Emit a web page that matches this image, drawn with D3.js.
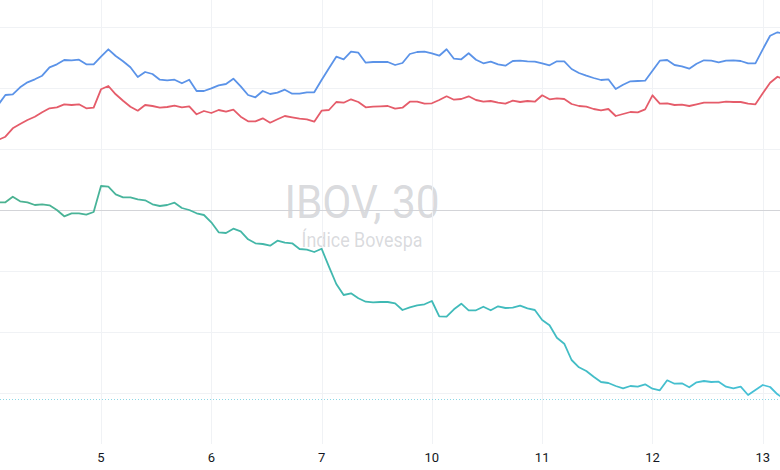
<!DOCTYPE html>
<html>
<head>
<meta charset="utf-8">
<script src="https://cdn.jsdelivr.net/npm/d3@7"></script>
<style>
  html, body { margin: 0; padding: 0; background: #ffffff; }
  svg { display: block; }
</style>
</head>
<body>
<svg id="chart" width="780" height="470"></svg>
<script>
// ---- data (percent change, 30-minute bars) ----
const dayLabels = ["5", "6", "7", "10", "11", "12", "13"];
const dayStartIndex = [14, 29, 44, 59, 74, 89, 104];
const gridValues = [1.83, 1.22, 0.61, -0.61, -1.22, -1.83];
const baselineValue = 0;

const seriesBlue = [1.05,1.15,1.157,1.227,1.277,1.307,1.343,1.427,1.457,1.50,1.497,1.503,1.457,1.457,
  1.533,1.607,1.54,1.487,1.427,1.33,1.38,1.36,1.303,1.297,1.303,1.267,1.303,1.19,1.19,
  1.217,1.247,1.26,1.313,1.237,1.15,1.127,1.19,1.16,1.173,1.203,1.163,1.163,1.177,1.177,
  1.30,1.417,1.533,1.507,1.583,1.573,1.473,1.48,1.48,1.48,1.45,1.47,1.56,1.58,1.583,
  1.567,1.543,1.607,1.513,1.507,1.567,1.503,1.467,1.483,1.457,1.443,1.49,1.493,1.487,1.483,
  1.467,1.447,1.487,1.487,1.41,1.37,1.343,1.32,1.30,1.307,1.21,1.253,1.287,1.29,1.293,
  1.393,1.493,1.50,1.45,1.437,1.413,1.463,1.497,1.493,1.477,1.493,1.497,1.49,1.467,1.467,
  1.607,1.743,1.777,1.76];

const seriesRed = [0.70,0.733,0.817,0.86,0.90,0.933,0.977,1.017,1.027,1.057,1.05,1.057,1.017,1.023,
  1.207,1.24,1.157,1.093,1.033,0.993,1.05,1.04,1.023,1.03,1.043,1.027,1.037,0.957,0.99,
  0.97,1.00,0.983,1.003,0.933,0.887,0.887,0.917,0.873,0.907,0.94,0.927,0.913,0.907,0.883,
  0.993,1.00,1.08,1.073,1.107,1.08,1.027,1.033,1.037,1.04,1.013,1.023,1.083,1.083,1.063,
  1.067,1.10,1.137,1.103,1.11,1.137,1.10,1.083,1.09,1.073,1.063,1.093,1.08,1.09,1.083,
  1.147,1.107,1.117,1.11,1.06,1.04,1.033,1.01,0.997,1.01,0.94,0.96,0.98,0.977,1.007,
  1.147,1.063,1.067,1.05,1.053,1.04,1.057,1.073,1.073,1.073,1.083,1.08,1.08,1.063,1.057,
  1.167,1.273,1.333,1.30];

const seriesTeal = [0.077,0.077,0.133,0.087,0.077,0.05,0.057,0.047,0.00,-0.063,-0.033,-0.033,-0.047,-0.02,
  0.24,0.233,0.157,0.127,0.127,0.107,0.097,0.057,0.04,0.05,0.073,0.02,0.00,-0.033,-0.05,
  -0.123,-0.223,-0.23,-0.187,-0.213,-0.293,-0.333,-0.34,-0.357,-0.307,-0.327,-0.333,-0.39,-0.397,-0.42,
  -0.387,-0.567,-0.74,-0.85,-0.833,-0.883,-0.917,-0.923,-0.92,-0.92,-0.933,-1.00,-0.973,-0.953,-0.943,
  -0.91,-1.063,-1.067,-0.993,-0.937,-1.003,-1.003,-0.967,-1.003,-0.963,-0.98,-0.977,-0.957,-0.983,-1.00,
  -1.10,-1.153,-1.277,-1.337,-1.50,-1.573,-1.61,-1.667,-1.72,-1.73,-1.76,-1.783,-1.76,-1.767,-1.743,
  -1.787,-1.803,-1.703,-1.737,-1.733,-1.773,-1.723,-1.71,-1.72,-1.717,-1.767,-1.783,-1.767,-1.85,-1.80,
  -1.75,-1.77,-1.843,-1.893];

const watermarkTitle = "IBOV, 30";
const watermarkSubtitle = "Índice Bovespa";

// ---- layout ----
const W = 780, H = 470;
const plotBottom = 444;
const svg = d3.select("#chart");

const x = d3.scaleLinear().domain([0, seriesBlue.length - 1]).range([-1.94, -1.94 + 7.353 * (seriesBlue.length - 1)]);
const y = d3.scaleLinear().domain([-2.34, 2.10]).range([plotBottom, 0]);

const defs = svg.append("defs");
const grad = defs.append("linearGradient")
  .attr("id", "tealGrad").attr("gradientUnits", "userSpaceOnUse")
  .attr("x1", 0).attr("x2", W).attr("y1", 0).attr("y2", 0);
grad.append("stop").attr("offset", "0%").attr("stop-color", "#4cb290");
grad.append("stop").attr("offset", "50%").attr("stop-color", "#3fb9b4");
grad.append("stop").attr("offset", "100%").attr("stop-color", "#47c1d8");
defs.append("clipPath").attr("id", "plotClip")
  .append("rect").attr("x", 0).attr("y", 0).attr("width", W).attr("height", plotBottom);

// watermark
const wm = svg.append("g").attr("font-family", "Roboto, sans-serif").attr("fill", "rgba(149,152,161,0.36)");
wm.append("text")
  .attr("transform", "translate(362,218) scale(0.92,1)")
  .attr("text-anchor", "middle").attr("font-size", 46)
  .text(watermarkTitle);
wm.append("text")
  .attr("transform", "translate(362,246.5) scale(0.92,1)")
  .attr("text-anchor", "middle").attr("font-size", 19.5)
  .text(watermarkSubtitle);

// grid
const grid = svg.append("g");
grid.selectAll("line.v").data(dayStartIndex).join("line")
  .attr("x1", d => Math.round(x(d)) + 0.5).attr("x2", d => Math.round(x(d)) + 0.5)
  .attr("y1", 0).attr("y2", plotBottom)
  .attr("stroke", "#f0f2f5").attr("stroke-width", 1);
grid.selectAll("line.h").data(gridValues).join("line")
  .attr("x1", 0).attr("x2", W)
  .attr("y1", d => Math.round(y(d)) + 0.5).attr("y2", d => Math.round(y(d)) + 0.5)
  .attr("stroke", "#f0f2f5").attr("stroke-width", 1);
grid.append("line")
  .attr("x1", 0).attr("x2", W)
  .attr("y1", Math.round(y(baselineValue)) + 0.5).attr("y2", Math.round(y(baselineValue)) + 0.5)
  .attr("stroke", "#d3d4d8").attr("stroke-width", 1);

// last value line of teal
const lastTeal = seriesTeal[seriesTeal.length - 1];
svg.append("line")
  .attr("x1", 0).attr("x2", W)
  .attr("y1", Math.round(y(lastTeal)) + 0.5).attr("y2", Math.round(y(lastTeal)) + 0.5)
  .attr("stroke", "#8dd7e6").attr("stroke-width", 1).attr("stroke-dasharray", "1,2")
  .attr("shape-rendering", "crispEdges");

// lines
const line = d3.line().x((d, i) => x(i)).y(d => y(d));
const lines = svg.append("g").attr("clip-path", "url(#plotClip)");
lines.append("path").datum(seriesBlue).attr("d", line)
  .attr("fill", "none").attr("stroke", "#5b93e8").attr("stroke-width", 1.8).attr("stroke-linejoin", "round");
lines.append("path").datum(seriesRed).attr("d", line)
  .attr("fill", "none").attr("stroke", "#e55c6a").attr("stroke-width", 1.8).attr("stroke-linejoin", "round");
lines.append("path").datum(seriesTeal).attr("d", line)
  .attr("fill", "none").attr("stroke", "url(#tealGrad)").attr("stroke-width", 1.8).attr("stroke-linejoin", "round");

// x-axis labels
svg.append("g").selectAll("text").data(dayStartIndex).join("text")
  .attr("x", d => x(d)).attr("y", 462)
  .attr("text-anchor", "middle")
  .attr("font-family", "Roboto, sans-serif").attr("font-size", 13)
  .attr("fill", "#131722")
  .text((d, i) => dayLabels[i]);
</script>
</body>
</html>
